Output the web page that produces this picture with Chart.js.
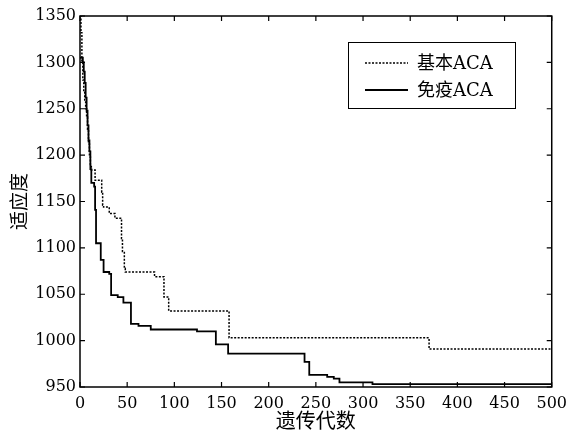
<!DOCTYPE html>
<html>
<head>
<meta charset="utf-8">
<script src="https://cdn.jsdelivr.net/npm/chart.js@4/dist/chart.umd.min.js"></script>
<style>
html,body{margin:0;padding:0;background:#fff;}
canvas{display:block;}
</style>
</head>
<body>
<canvas id="c" width="574" height="435"></canvas>
<script>
// ---- data ----
const seriesNames = ['基本ACA', '免疫ACA'];
const basicGen = [0,1,2,3,4,5,6,7,8,9,10,11,12,16,23,24,25,31,37,44,45,47,48,79,89,94,158,370,500];
const basicFit = [1350,1332,1300,1281,1268,1258,1250,1241,1228,1212,1198,1190,1184,1173,1160,1146,1144,1137,1132,1110,1096,1078,1074,1069,1047,1032,1003,991,991];
const immuneGen = [0,3,4,5,6,7,8,9,10,11,12,15,16,17,22,25,31,33,40,46,54,62,75,124,144,157,238,243,262,269,275,310,500];
const immuneFit = [1305,1300,1290,1278,1262,1248,1232,1216,1204,1185,1170,1166,1141,1105,1087,1074,1072,1049,1047,1041,1018,1016,1012,1010,996,986,977,963,961,959,955,953,953];
const xTickValues = [0,50,100,150,200,250,300,350,400,450,500];
const yTickValues = [950,1000,1050,1100,1150,1200,1250,1300,1350];
const xTitle = '遗传代数';
const yTitle = '适应度';

const toPts = (xs, ys) => xs.map((x, i) => ({x: x, y: ys[i]}));

const frame = {
  id: 'frame',
  afterDatasetsDraw(chart) {
    const {ctx, chartArea: a, scales: {x, y}} = chart;
    ctx.save();
    ctx.strokeStyle = '#000';
    ctx.lineWidth = 1.5;
    ctx.strokeRect(a.left, a.top, a.right - a.left, a.bottom - a.top);
    ctx.lineWidth = 1.2;
    const L = 5;
    ctx.beginPath();
    xTickValues.forEach(v => {
      const px = x.getPixelForValue(v);
      ctx.moveTo(px, a.bottom); ctx.lineTo(px, a.bottom - L);
      ctx.moveTo(px, a.top); ctx.lineTo(px, a.top + L);
    });
    yTickValues.forEach(v => {
      const py = y.getPixelForValue(v);
      ctx.moveTo(a.left, py); ctx.lineTo(a.left + L, py);
      ctx.moveTo(a.right, py); ctx.lineTo(a.right - L, py);
    });
    ctx.stroke();

    // legend box
    const bx = 348.5, by = 42.5, bw = 167, bh = 66;
    ctx.fillStyle = '#fff';
    ctx.fillRect(bx, by, bw, bh);
    ctx.lineWidth = 1;
    ctx.strokeRect(bx, by, bw, bh);
    const rows = [63, 90];
    chart.data.datasets.forEach((ds, i) => {
      ctx.save();
      ctx.strokeStyle = ds.borderColor;
      ctx.lineWidth = ds.borderWidth;
      ctx.setLineDash(ds.borderDash || []);
      ctx.beginPath();
      ctx.moveTo(365, rows[i]); ctx.lineTo(408, rows[i]);
      ctx.stroke();
      ctx.restore();
      ctx.fillStyle = '#000';
      ctx.font = "18px 'DejaVu Serif', 'Noto Sans CJK SC'";
      ctx.textBaseline = 'middle';
      ctx.textAlign = 'left';
      ctx.fillText(ds.label, 417, rows[i] + 1);
    });
    ctx.restore();
  }
};

new Chart(document.getElementById('c'), {
  type: 'line',
  data: {
    datasets: [
      {
        label: seriesNames[0],
        data: toPts(basicGen, basicFit),
        borderColor: '#000',
        borderWidth: 1.5,
        borderDash: [2, 1.5],
        stepped: true,
        pointRadius: 0,
        fill: false
      },
      {
        label: seriesNames[1],
        data: toPts(immuneGen, immuneFit),
        borderColor: '#000',
        borderWidth: 1.8,
        stepped: true,
        pointRadius: 0,
        fill: false
      }
    ]
  },
  options: {
    responsive: false,
    animation: false,
    layout: {autoPadding: false, padding: {top: 16, right: 22, left: 0, bottom: 0}},
    plugins: {legend: {display: false}, tooltip: {enabled: false}},
    scales: {
      x: {
        type: 'linear',
        min: 0, max: 500,
        afterBuildTicks: s => { s.ticks = xTickValues.map(v => ({value: v})); },
        afterFit: s => { s.height = 48; },
        grid: {display: false, drawTicks: false},
        border: {display: false},
        ticks: {color: '#000', padding: 7, maxRotation: 0, font: {family: 'DejaVu Serif', size: 16}, callback: v => String(v)},
        title: {display: true, text: xTitle, color: '#000', padding: {top: 0, bottom: 3}, font: {family: 'Noto Sans CJK SC', size: 20}}
      },
      y: {
        type: 'linear',
        min: 950, max: 1350,
        afterBuildTicks: s => { s.ticks = yTickValues.map(v => ({value: v})); },
        afterFit: s => { s.width = 80; },
        grid: {display: false, drawTicks: false},
        border: {display: false},
        ticks: {color: '#000', padding: 4, font: {family: 'DejaVu Serif', size: 16}, callback: v => String(v)},
        title: {display: true, text: yTitle, color: '#000', padding: {top: 7, bottom: 0}, font: {family: 'Noto Sans CJK SC', size: 19}}
      }
    }
  },
  plugins: [frame]
});
</script>
</body>
</html>
